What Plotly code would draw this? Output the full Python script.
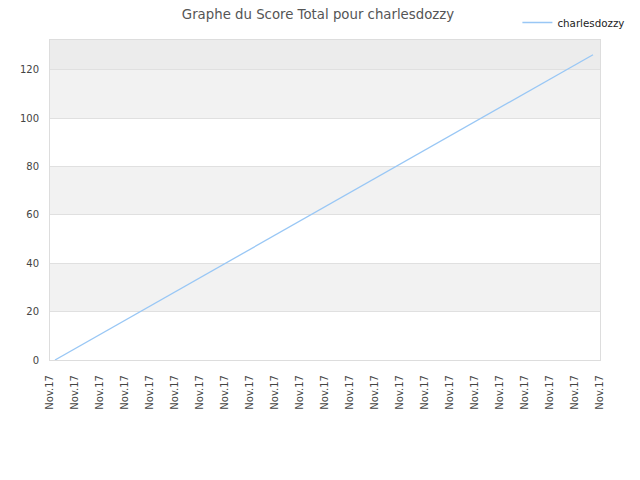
import plotly.graph_objects as go

# Data
tick_labels = ["Nov.17"] * 23
series_name = "charlesdozzy"
x_values = [0.2, 21.72]
score_values = [0, 126.3]

tick_positions = list(range(len(tick_labels)))

fig = go.Figure()

# background bands
bands = [(20, 40, "#f2f2f2"), (60, 80, "#f2f2f2"), (100, 120, "#f2f2f2"), (120, 132.4, "#ececec")]
for y0, y1, c in bands:
    fig.add_shape(type="rect", xref="paper", yref="y", x0=0, x1=1, y0=y0, y1=y1,
                  fillcolor=c, line_width=0, layer="below")

fig.add_trace(go.Scatter(x=x_values, y=score_values, mode="lines", name=series_name,
                         line=dict(color="#99c7f5", width=1.3)))

fig.update_layout(
    width=632, height=472,
    margin=dict(l=42, r=40, t=32, b=120, autoexpand=False),
    paper_bgcolor="white", plot_bgcolor="white",
    font=dict(family="DejaVu Sans", size=10, color="#444"),
    title=dict(text="Graphe du Score Total pour charlesdozzy", x=0.4905, xanchor="center",
               y=0.996, yanchor="top", font=dict(size=13.3, color="#555")),
    showlegend=True,
    legend=dict(x=0.806, y=1.0163, xref="container", yref="container", xanchor="left", yanchor="top",
                itemwidth=30,
                font=dict(size=10.3, color="#222"), bgcolor="rgba(0,0,0,0)"),
    xaxis=dict(range=[0, 22], tickmode="array", tickvals=tick_positions, ticktext=tick_labels,
               tickangle=-90, showgrid=False, zeroline=False, showline=True, linecolor="#dddddd",
               mirror=True, ticks="", ticklabelstandoff=10, tickfont=dict(size=10, color="#444")),
    yaxis=dict(range=[0, 132.4], tickmode="array", tickvals=[0, 20, 40, 60, 80, 100, 120],
               showgrid=True, gridcolor="#e0e0e0", zeroline=False, showline=True, linecolor="#dddddd",
               mirror=True, ticks="", ticklabelstandoff=8, tickfont=dict(size=10, color="#444")),
)

fig.write_html("out.html")
